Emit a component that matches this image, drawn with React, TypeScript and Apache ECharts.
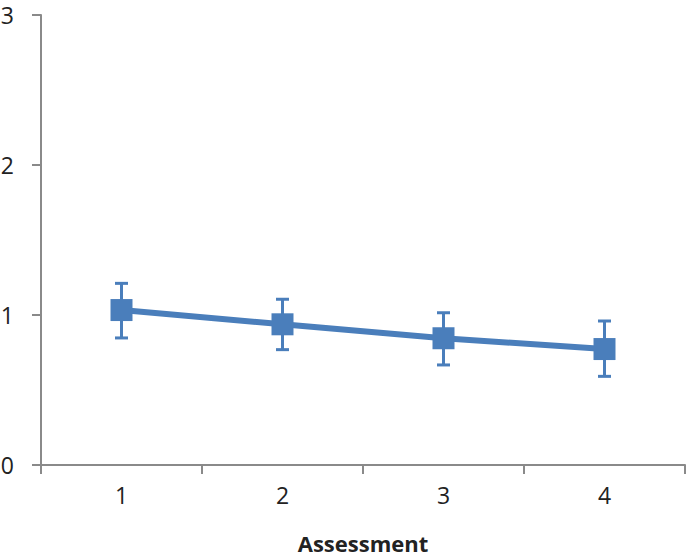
import React, { useEffect, useRef } from "react";
import * as echarts from "echarts";

const categories = ["1", "2", "3", "4"];
const means = [1.033, 0.938, 0.845, 0.773];
const lows = [0.847, 0.769, 0.667, 0.591];
const highs = [1.211, 1.105, 1.015, 0.96];
const yTicks = { min: 0, max: 3, interval: 1 };

const BLUE = "#4A7EBB";
const AXIS = "#8A8A8A";
const FONT = "'Open Sans', 'Liberation Sans', sans-serif";

export default function App() {
  const ref = useRef<HTMLDivElement>(null);
  useEffect(() => {
    const chart = echarts.init(ref.current!, undefined, { renderer: "svg" });
    const errData = categories.map((_, i) => [i, lows[i], highs[i]]);
    chart.setOption({
      animation: false,
      grid: { left: 41, right: 2, top: 15, bottom: 94, containLabel: false, outerBoundsMode: "none" },
      xAxis: {
        type: "category",
        data: categories,
        boundaryGap: true,
        name: "Assessment",
        nameLocation: "middle",
        nameGap: 67,
        nameTextStyle: { fontFamily: FONT, fontSize: 22, fontWeight: "bold", color: "#222" },
        axisLine: { lineStyle: { color: AXIS, width: 2 } },
        axisTick: { show: true, alignWithLabel: false, length: 9, lineStyle: { color: AXIS, width: 2 } },
        axisLabel: { fontFamily: FONT, fontSize: 23, color: "#222", margin: 18 },
        splitLine: { show: false },
      },
      yAxis: {
        type: "value",
        min: yTicks.min,
        max: yTicks.max,
        interval: yTicks.interval,
        axisLine: { show: true, lineStyle: { color: AXIS, width: 2 } },
        axisTick: { show: true, length: 9, lineStyle: { color: AXIS, width: 2 } },
        axisLabel: { fontFamily: FONT, fontSize: 23, color: "#222", margin: 27 },
        splitLine: { show: false },
      },
      series: [
        {
          type: "custom",
          data: errData,
          z: 1,
          renderItem: (params: any, api: any) => {
            const x = api.value(0);
            const lo = api.coord([x, api.value(1)]);
            const hi = api.coord([x, api.value(2)]);
            const half = 6.5;
            const style = { stroke: BLUE, lineWidth: 3 };
            return {
              type: "group",
              children: [
                { type: "line", shape: { x1: lo[0], y1: lo[1], x2: hi[0], y2: hi[1] }, style },
                { type: "line", shape: { x1: hi[0] - half, y1: hi[1], x2: hi[0] + half, y2: hi[1] }, style },
                { type: "line", shape: { x1: lo[0] - half, y1: lo[1], x2: lo[0] + half, y2: lo[1] }, style },
              ],
            };
          },
        },
        {
          type: "line",
          data: means,
          z: 2,
          symbol: "rect",
          symbolSize: 22,
          itemStyle: { color: BLUE },
          lineStyle: { color: BLUE, width: 6 },
        },
      ],
    });
    return () => chart.dispose();
  }, []);
  return (
    <div
      ref={ref}
      style={{ position: "fixed", left: 0, top: 0, width: 687, height: 559, background: "#fff" }}
    />
  );
}
